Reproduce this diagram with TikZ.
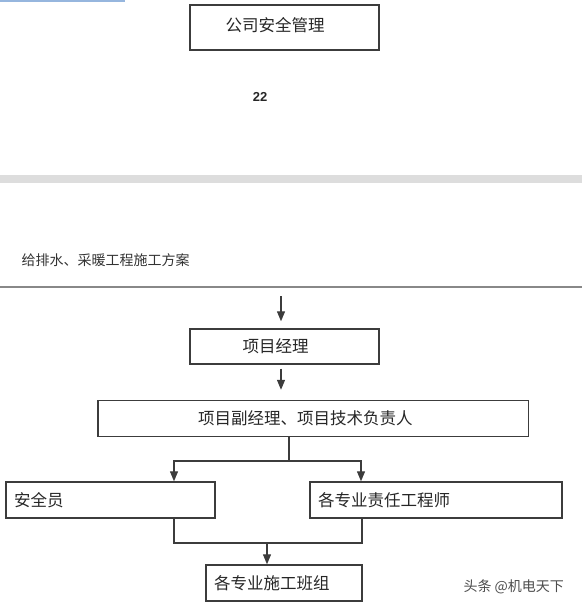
\documentclass[tikz,border=0pt]{standalone}
\usepackage{fontspec}
\setmainfont{Noto Sans CJK SC}
\newfontfamily\arialfont{Liberation Sans}
\usetikzlibrary{arrows.meta}
\definecolor{linegray}{RGB}{60,60,60}
\definecolor{rulegray}{RGB}{136,136,136}
\definecolor{bandgray}{RGB}{221,221,221}
\definecolor{fragblue}{RGB}{150,182,222}
\tikzset{
    box/.style={draw=linegray, line width=1.4pt, inner sep=0pt, text=black!85,
        font=\fontsize{16.5}{16.5}\selectfont},
    lbox/.style={box, align=left, text width=#1, inner xsep=8pt},
    link/.style={draw=linegray, line width=1.2pt},
    arr/.style={link, -{Triangle[width=8pt,length=10pt]}}
}
\begin{document}
\begin{tikzpicture}[x=1pt, y=-1pt]
    \useasboundingbox (0,0) rectangle (582,610);
    % page fragments
    \fill[fragblue] (0,0) rectangle (125,2);
    \fill[bandgray] (0,175) rectangle (582,183);
    \draw[rulegray, line width=2pt] (0,287) -- (582,287);
    \node[font=\arialfont\bfseries\fontsize{13}{13}\selectfont, text=black!85] (page) at (260,97) {22};
    \node[anchor=west, text=black!80, font=\fontsize{14}{14}\selectfont] (title) at (18,260) {给排水、采暖工程施工方案};
    % boxes
    \node[box, minimum width=189pt, minimum height=45pt,
        label={[xshift=-9.5pt, yshift=2pt, font=\fontsize{16.5}{16.5}\selectfont, text=black!85]center:公司安全管理}] (co) at (284.5,27.5) {};
    \node[box, minimum width=189pt, minimum height=35pt,
        label={[xshift=-9pt, font=\fontsize{16.5}{16.5}\selectfont, text=black!85]center:项目经理}] (pm) at (284.5,346.5) {};
    \node[box, minimum width=430.5pt, minimum height=36pt,
        label={[xshift=-8pt, font=\fontsize{16.5}{16.5}\selectfont, text=black!85]center:项目副经理、项目技术负责人}] (dep) at (313.25,418.5) {};
    \node[lbox=193pt, minimum height=36pt] (safe) at (110.5,500) {安全员};
    \node[lbox=236pt, minimum height=36pt] (eng) at (436,500) {各专业责任工程师};
    \node[lbox=140pt, minimum height=36pt] (team) at (284,583) {各专业施工班组};
    % connectors
    \coordinate (top) at (281,296);
    \draw[arr, shorten >=7pt] (top) -- (top |- pm.north);
    \draw[arr, shorten <=4pt, shorten >=10pt] ([xshift=-3.5pt]pm.south) -- ([xshift=-3.5pt]pm.south |- dep.north);
    \coordinate (split) at (289,461);
    \coordinate (lx) at (174,461);
    \coordinate (rx) at (361,461);
    \draw[link] (split |- dep.south) -- (split);
    \draw[arr] (split) -- (lx) -- (lx |- safe.north);
    \draw[arr] (split) -- (rx) -- (rx |- eng.north);
    \coordinate (jl) at (174,543);
    \coordinate (jr) at (362,543);
    \coordinate (join) at (267,543);
    \draw[link] (jl |- safe.south) -- (jl) -- (jr) -- (jr |- eng.south);
    \draw[arr] (join) -- (join |- team.north);
    % watermark
    \node[anchor=west, text=black!70, font=\fontsize{14}{14}\selectfont] (mark) at (460,587) {头条 @机电天下};
\end{tikzpicture}
\end{document}
